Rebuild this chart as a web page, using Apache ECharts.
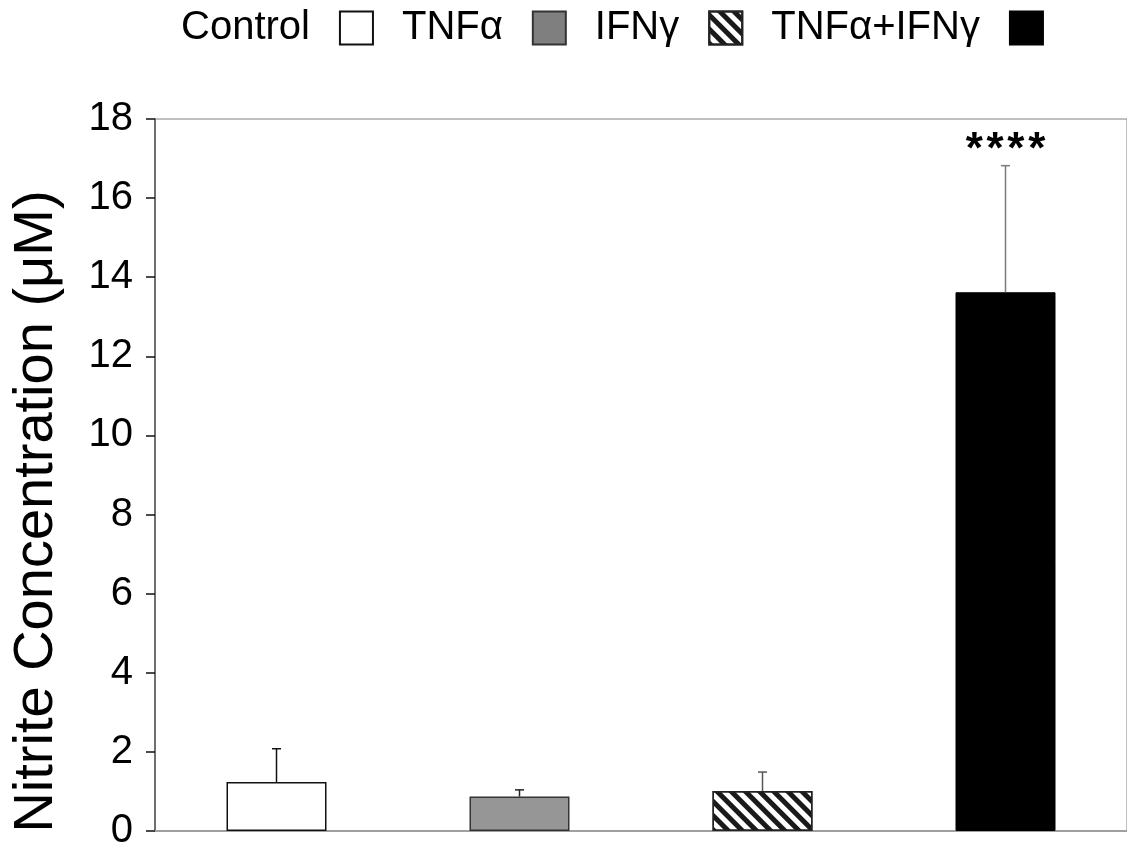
<!DOCTYPE html>
<html>
<head>
<meta charset="utf-8">
<style>
  html, body { margin: 0; padding: 0; background: #fff; }
  #chart { width: 1127px; height: 852px; }
</style>
<script src="https://cdn.jsdelivr.net/npm/echarts@6/dist/echarts.min.js"></script>
</head>
<body>
<div id="chart"></div>
<script>
// treatment groups, mean nitrite (uM) and upper error
const groups = ['Control', 'TNFα', 'IFNγ', 'TNFα+IFNγ']
const means = [1.24, 0.87, 1.01, 13.62]
const errors = [0.84, 0.17, 0.48, 3.2]
const sigLabels = ['', '', '', '*\u200A*\u200A*\u200A*']
const yTicks = [0, 2, 4, 6, 8, 10, 12, 14, 16, 18]

const FONT = "'Liberation Sans', Arial, sans-serif"

// per-group look
const barStyles = [
  { color: '#ffffff', borderColor: '#111', borderWidth: 1.5 },
  { color: '#969696', borderColor: '#333', borderWidth: 1.5 },
  {
    color: '#ffffff', borderColor: '#222', borderWidth: 1.5,
    decal: {
      symbol: 'rect', symbolSize: 1, color: '#1a1a1a',
      dashArrayX: [1, 0], dashArrayY: [5, 5], rotation: Math.PI / 4
    }
  },
  { color: '#000000', borderColor: '#000', borderWidth: 1 }
]
const errColors = ['#111', '#222', '#555', '#7a7a7a']

const chart = echarts.init(document.getElementById('chart'))

const barSeries = groups.map((name, k) => ({
  name: name,
  type: 'bar',
  stack: 'all',
  barWidth: 100,
  itemStyle: barStyles[k],
  emphasis: { disabled: true },
  data: groups.map((g, i) => (i === k ? means[i] : '-'))
}))

const errSeries = {
  type: 'custom',
  silent: true,
  z: 5,
  data: groups.map((g, i) => [i, means[i], errors[i]]),
  renderItem: (params, api) => {
    const i = api.value(0)
    const base = api.coord([i, api.value(1)])
    const top = api.coord([i, api.value(1) + api.value(2)])
    const col = errColors[i]
    const children = [
      { type: 'line', shape: { x1: base[0], y1: base[1], x2: top[0], y2: top[1] }, style: { stroke: col, lineWidth: 1.5 } },
      { type: 'line', shape: { x1: top[0] - 4.5, y1: top[1], x2: top[0] + 4.5, y2: top[1] }, style: { stroke: col, lineWidth: 1.5 } }
    ]
    if (sigLabels[i]) {
      children.push({
        type: 'text',
        style: {
          x: top[0], y: top[1] - 36.5, text: sigLabels[i],
          align: 'center', verticalAlign: 'top',
          font: 'bold 44px ' + FONT, fill: '#000'
        }
      })
    }
    return { type: 'group', children: children }
  }
}

chart.setOption({
  animation: false,
  backgroundColor: '#fff',
  textStyle: { fontFamily: FONT },
  legend: {
    left: 176,
    top: 3,
    width: 1600,
    icon: 'rect',
    align: 'right',
    itemWidth: 33,
    itemHeight: 33,
    itemGap: 28,
    selectedMode: false,
    textStyle: { fontSize: 40, color: '#000', fontFamily: FONT, padding: [0, 25, 0, 0] },
    data: groups.map((g, k) => (k === 1 ? { name: g, itemStyle: { color: '#7f7f7f' } } : { name: g }))
  },
  grid: {
    left: 155, width: 979, top: 119, bottom: 21,
    show: true, borderColor: '#808080', borderWidth: 1, backgroundColor: 'transparent'
  },
  xAxis: {
    type: 'category',
    data: groups,
    axisLine: { lineStyle: { color: '#a0a0a0', width: 2 } },
    axisTick: { show: false },
    axisLabel: { show: false },
    splitLine: { show: false }
  },
  yAxis: {
    type: 'value',
    min: yTicks[0],
    max: yTicks[yTicks.length - 1],
    interval: 2,
    name: 'Nitrite Concentration (μM)',
    nameLocation: 'middle',
    nameGap: 90,
    nameTextStyle: { fontSize: 56, color: '#000', fontFamily: FONT, padding: [0, 73, 0, 0] },
    axisLine: { show: true, lineStyle: { color: '#555', width: 1.5 } },
    axisTick: { show: true, length: 9, lineStyle: { color: '#111', width: 1.5 } },
    axisLabel: { fontSize: 40, color: '#000', margin: 22, fontFamily: FONT },
    splitLine: { show: false }
  },
  series: barSeries.concat([errSeries])
})
</script>
</body>
</html>
